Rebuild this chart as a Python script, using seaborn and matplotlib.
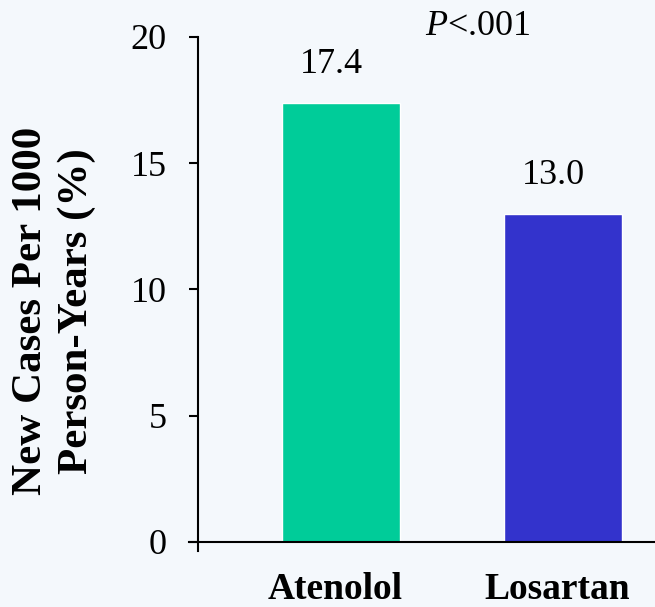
import matplotlib
matplotlib.use("Agg")
import matplotlib.pyplot as plt
import matplotlib.transforms as mtrans
import seaborn as sns
import pandas as pd

categories = ["Atenolol", "Losartan"]
values = [17.4, 13.0]
value_labels = ["17.4", "13.0"]
bar_colors = ["#00CC99", "#3333CC"]
y_ticks = [0, 5, 10, 15, 20]

sns.set_theme(style="white")
plt.rcParams["font.family"] = ["Liberation Serif", "DejaVu Serif"]
plt.rcParams["mathtext.fontset"] = "custom"
plt.rcParams["mathtext.rm"] = "Liberation Serif"
plt.rcParams["mathtext.it"] = "Liberation Serif:italic"

bg = "#F4F8FC"
fig = plt.figure(figsize=(6.55, 6.07), dpi=100, facecolor=bg)
ax = fig.add_axes([189 / 655, 56 / 607, 466 / 655, 514 / 607])
ax.set_facecolor("none")

df = pd.DataFrame({"cat": categories, "val": values})
sns.barplot(data=df, x="cat", y="val", hue="cat", palette=bar_colors,
            width=0.53, legend=False, ax=ax, saturation=1)

ax.set_xlim(-0.685, 1.414)
ax.set_ylim(-0.36, 20)
ax.set_yticks(y_ticks)
ax.set_yticklabels([str(t) for t in y_ticks])

for s in ["top", "right"]:
    ax.spines[s].set_visible(False)
ax.spines["left"].set_position(("data", -0.644))
ax.spines["left"].set_bounds(-0.36, 20)
ax.spines["bottom"].set_position(("data", 0))
for s in ["left", "bottom"]:
    ax.spines[s].set_color("black")
    ax.spines[s].set_linewidth(1.5)

ax.tick_params(axis="y", direction="out", length=6.5, width=1.5, pad=16,
               labelsize=26, colors="black", left=True)
ax.tick_params(axis="x", length=0, pad=22, labelsize=27, colors="black")
for lab in ax.get_xticklabels():
    lab.set_fontweight("bold")
    lab.set_transform(lab.get_transform() + mtrans.ScaledTranslation(-6 / 100, 0, fig.dpi_scale_trans))

ax.set_xlabel("")
ax.set_ylabel("")

for i, (v, t) in enumerate(zip(values, value_labels)):
    ax.annotate(t, xy=(i, v), xytext=(-7, 21.6), textcoords="offset points",
                ha="center", va="baseline", fontsize=26, color="black")

fig.text(478 / 655, 1 - 35 / 607, "$P$<.001", ha="center", va="baseline",
         fontsize=26, color="black")

fig.text(54 / 655, 1 - 311 / 607, "New Cases Per 1000\nPerson-Years (%)",
         rotation=90, ha="center", va="center", fontsize=31,
         fontweight="bold", linespacing=1.28, color="black")

fig.savefig("out.png", dpi=100, facecolor=bg)
